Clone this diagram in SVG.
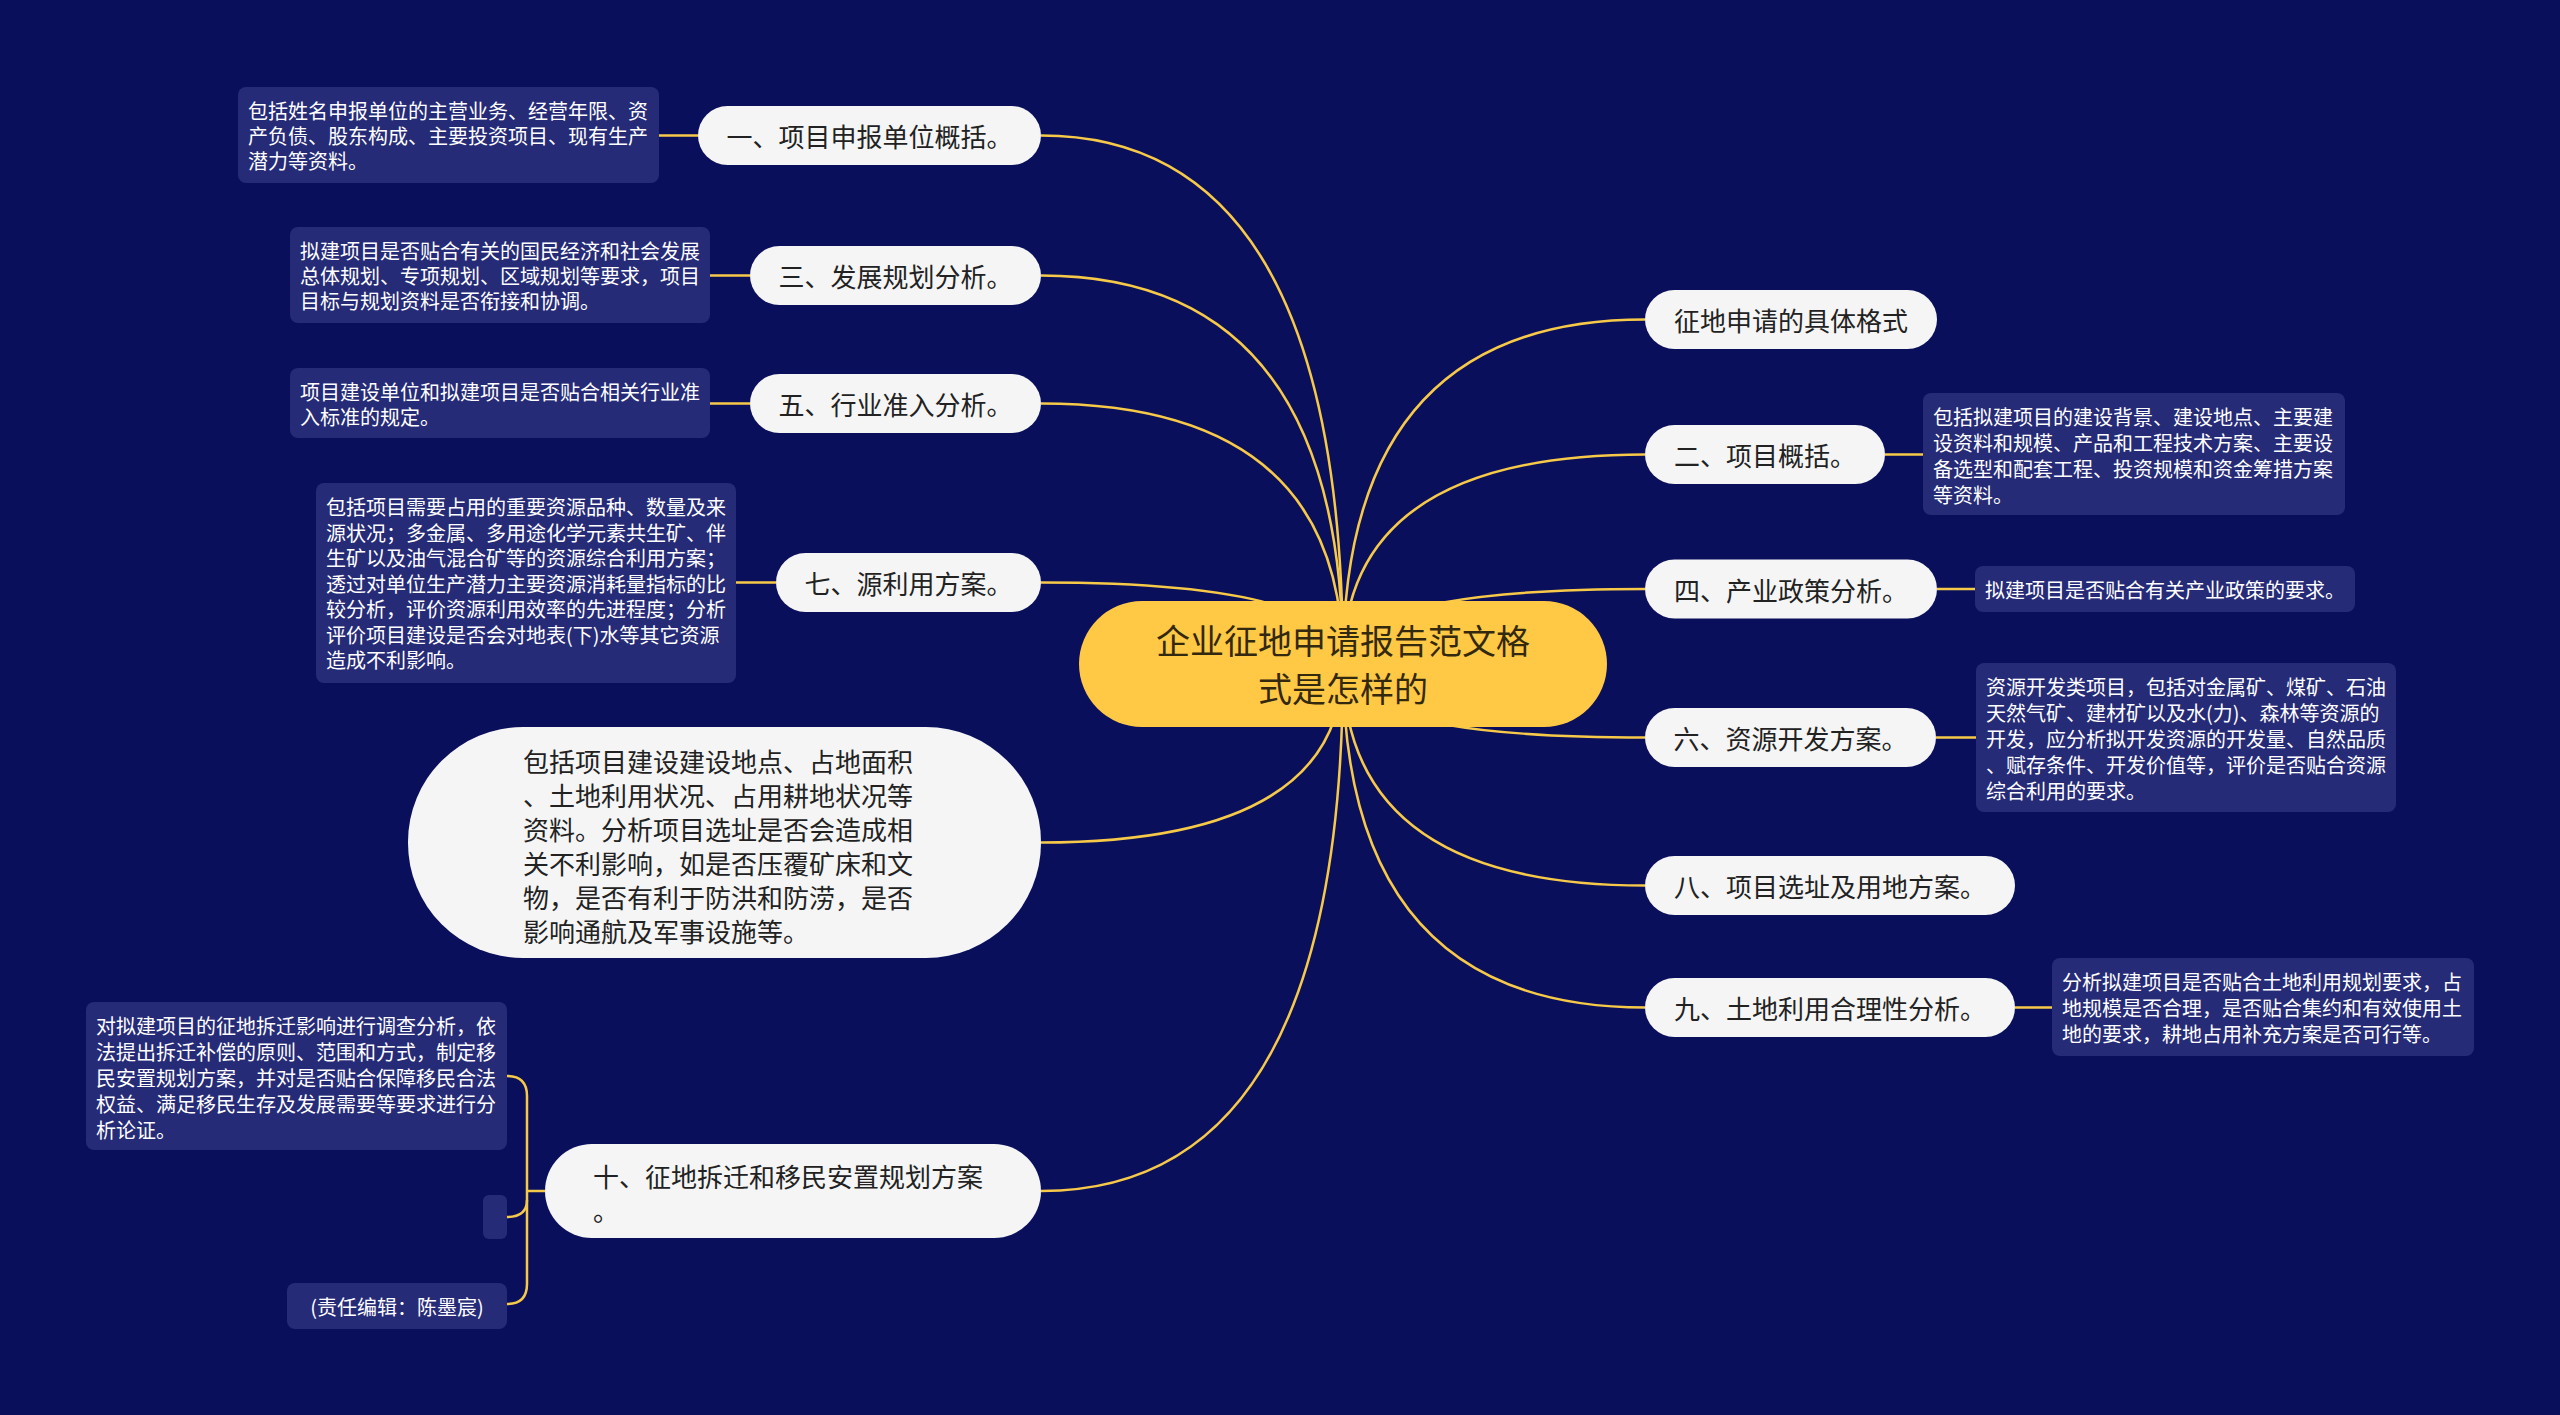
<svg xmlns="http://www.w3.org/2000/svg" width="2560" height="1415" viewBox="0 0 2560 1415">
<defs>
<style>
text{font-family:"Noto Sans CJK SC","Noto Sans",sans-serif;dominant-baseline:central}
.pill{fill:#f5f5f5}
.pt{font-size:26px;fill:#222}
.desc{fill:#262b77}
.dt{font-size:20px;fill:#ffffff}
.ln{fill:none;stroke:#f7c948;stroke-width:2.5}
.root{fill:#ffc845}
.rt{font-size:34px;fill:#33290f;text-anchor:middle}
</style>
</defs>
<rect x="0" y="0" width="2560" height="1415" fill="#0a0f5c"/>
<g id="connectors">
<path class="ln" d="M1343 664 Q1343 135.5 1041 135.5"/>
<path class="ln" d="M1343 664 Q1343 275.5 1041 275.5"/>
<path class="ln" d="M1343 664 Q1343 403.5 1041 403.5"/>
<path class="ln" d="M1343 664 Q1343 582.5 1041 582.5"/>
<path class="ln" d="M1343 664 Q1343 842.5 1041 842.5"/>
<path class="ln" d="M1343 664 Q1343 1191 1041 1191"/>
<path class="ln" d="M1343 664 Q1343 319.5 1645 319.5"/>
<path class="ln" d="M1343 664 Q1343 454.5 1645 454.5"/>
<path class="ln" d="M1343 664 Q1343 589 1645 589"/>
<path class="ln" d="M1343 664 Q1343 737.5 1645 737.5"/>
<path class="ln" d="M1343 664 Q1343 885.5 1645 885.5"/>
<path class="ln" d="M1343 664 Q1343 1007.5 1645 1007.5"/>
<path class="ln" d="M659 135.5 H698"/>
<path class="ln" d="M710 275.5 H750"/>
<path class="ln" d="M710 403.5 H750"/>
<path class="ln" d="M736 582.5 H776"/>
<path class="ln" d="M1885 454.5 H1923"/>
<path class="ln" d="M1937 589 H1975"/>
<path class="ln" d="M1936 737.5 H1976"/>
<path class="ln" d="M2015 1007.5 H2052"/>
<path class="ln" d="M545 1191 H527"/>
<path class="ln" d="M507 1076 Q527 1076 527 1096 V1284 Q527 1304 507 1304"/>
<path class="ln" d="M527 1200 Q527 1217 507 1217"/>
</g>
<g id="root">
<rect class="root" x="1079" y="601" width="528" height="126" rx="63"/>
<text class="rt" x="1343" y="639">企业征地申请报告范文格</text>
<text class="rt" x="1343" y="687">式是怎样的</text>
</g>
<g id="n1">
<rect class="pill" x="698" y="106" width="343" height="59" rx="29.5"/>
<text class="pt" x="869.5" y="135.5" text-anchor="middle">一、项目申报单位概括。</text>
</g>
<g id="n1d">
<rect class="desc" x="238" y="87" width="421" height="96" rx="8"/>
<text class="dt" x="248"><tspan x="248" y="110">包括姓名申报单位的主营业务、经营年限、资</tspan><tspan x="248" y="135">产负债、股东构成、主要投资项目、现有生产</tspan><tspan x="248" y="160">潜力等资料。</tspan></text>
</g>
<g id="n3">
<rect class="pill" x="750" y="246" width="291" height="59" rx="29.5"/>
<text class="pt" x="895.5" y="275.5" text-anchor="middle">三、发展规划分析。</text>
</g>
<g id="n3d">
<rect class="desc" x="290" y="227" width="420" height="96" rx="8"/>
<text class="dt"><tspan x="300" y="250">拟建项目是否贴合有关的国民经济和社会发展</tspan><tspan x="300" y="275">总体规划、专项规划、区域规划等要求，项目</tspan><tspan x="300" y="300">目标与规划资料是否衔接和协调。</tspan></text>
</g>
<g id="n5">
<rect class="pill" x="750" y="374" width="291" height="59" rx="29.5"/>
<text class="pt" x="895.5" y="403.5" text-anchor="middle">五、行业准入分析。</text>
</g>
<g id="n5d">
<rect class="desc" x="290" y="368" width="420" height="70" rx="8"/>
<text class="dt"><tspan x="300" y="390.5">项目建设单位和拟建项目是否贴合相关行业准</tspan><tspan x="300" y="415.5">入标准的规定。</tspan></text>
</g>
<g id="n7">
<rect class="pill" x="776" y="553" width="265" height="59" rx="29.5"/>
<text class="pt" x="908.5" y="582.5" text-anchor="middle">七、源利用方案。</text>
</g>
<g id="n7d">
<rect class="desc" x="316" y="483" width="420" height="200" rx="8"/>
<text class="dt"><tspan x="326" y="506">包括项目需要占用的重要资源品种、数量及来</tspan><tspan x="326" y="531.5">源状况；多金属、多用途化学元素共生矿、伴</tspan><tspan x="326" y="557">生矿以及油气混合矿等的资源综合利用方案；</tspan><tspan x="326" y="582.5">透过对单位生产潜力主要资源消耗量指标的比</tspan><tspan x="326" y="608">较分析，评价资源利用效率的先进程度；分析</tspan><tspan x="326" y="633.5">评价项目建设是否会对地表(下)水等其它资源</tspan><tspan x="326" y="659">造成不利影响。</tspan></text>
</g>
<g id="n-site">
<rect class="pill" x="408" y="727" width="633" height="231" rx="115"/>
<text class="pt"><tspan x="523" y="760">包括项目建设建设地点、占地面积</tspan><tspan x="523" y="794">、土地利用状况、占用耕地状况等</tspan><tspan x="523" y="828">资料。分析项目选址是否会造成相</tspan><tspan x="523" y="862">关不利影响，如是否压覆矿床和文</tspan><tspan x="523" y="896">物，是否有利于防洪和防涝，是否</tspan><tspan x="523" y="930">影响通航及军事设施等。</tspan></text>
</g>
<g id="n10">
<rect class="pill" x="545" y="1144" width="496" height="94" rx="47"/>
<text class="pt"><tspan x="593" y="1175">十、征地拆迁和移民安置规划方案</tspan><tspan x="593" y="1209">。</tspan></text>
</g>
<g id="n10a">
<rect class="desc" x="86" y="1002" width="421" height="148" rx="8"/>
<text class="dt"><tspan x="96" y="1025">对拟建项目的征地拆迁影响进行调查分析，依</tspan><tspan x="96" y="1051">法提出拆迁补偿的原则、范围和方式，制定移</tspan><tspan x="96" y="1077">民安置规划方案，并对是否贴合保障移民合法</tspan><tspan x="96" y="1103">权益、满足移民生存及发展需要等要求进行分</tspan><tspan x="96" y="1129">析论证。</tspan></text>
</g>
<g id="n10b">
<rect class="desc" x="483" y="1195" width="24" height="44" rx="6"/>
</g>
<g id="n10c">
<rect class="desc" x="287" y="1283" width="220" height="46" rx="8"/>
<text class="dt" x="397" y="1306" text-anchor="middle">(责任编辑：陈墨宸)</text>
</g>
<g id="r0">
<rect class="pill" x="1645" y="290" width="292" height="59" rx="29.5"/>
<text class="pt" x="1791" y="319.5" text-anchor="middle">征地申请的具体格式</text>
</g>
<g id="r2">
<rect class="pill" x="1645" y="425" width="240" height="59" rx="29.5"/>
<text class="pt" x="1765" y="454.5" text-anchor="middle">二、项目概括。</text>
</g>
<g id="r2d">
<rect class="desc" x="1923" y="393" width="422" height="122" rx="8"/>
<text class="dt"><tspan x="1933" y="416">包括拟建项目的建设背景、建设地点、主要建</tspan><tspan x="1933" y="442">设资料和规模、产品和工程技术方案、主要设</tspan><tspan x="1933" y="468">备选型和配套工程、投资规模和资金筹措方案</tspan><tspan x="1933" y="494">等资料。</tspan></text>
</g>
<g id="r4">
<rect class="pill" x="1645" y="559.5" width="292" height="59" rx="29.5"/>
<text class="pt" x="1791" y="589" text-anchor="middle">四、产业政策分析。</text>
</g>
<g id="r4d">
<rect class="desc" x="1975" y="566" width="380" height="46" rx="8"/>
<text class="dt" x="1985" y="589">拟建项目是否贴合有关产业政策的要求。</text>
</g>
<g id="r6">
<rect class="pill" x="1645" y="708" width="291" height="59" rx="29.5"/>
<text class="pt" x="1790.5" y="737.5" text-anchor="middle">六、资源开发方案。</text>
</g>
<g id="r6d">
<rect class="desc" x="1976" y="663" width="420" height="149" rx="8"/>
<text class="dt"><tspan x="1986" y="685.5">资源开发类项目，包括对金属矿、煤矿、石油</tspan><tspan x="1986" y="711.5">天然气矿、建材矿以及水(力)、森林等资源的</tspan><tspan x="1986" y="737.5">开发，应分析拟开发资源的开发量、自然品质</tspan><tspan x="1986" y="763.5">、赋存条件、开发价值等，评价是否贴合资源</tspan><tspan x="1986" y="789.5">综合利用的要求。</tspan></text>
</g>
<g id="r8">
<rect class="pill" x="1645" y="856" width="370" height="59" rx="29.5"/>
<text class="pt" x="1830" y="885.5" text-anchor="middle">八、项目选址及用地方案。</text>
</g>
<g id="r9">
<rect class="pill" x="1645" y="978" width="370" height="59" rx="29.5"/>
<text class="pt" x="1830" y="1007.5" text-anchor="middle">九、土地利用合理性分析。</text>
</g>
<g id="r9d">
<rect class="desc" x="2052" y="958" width="422" height="98" rx="8"/>
<text class="dt"><tspan x="2062" y="981">分析拟建项目是否贴合土地利用规划要求，占</tspan><tspan x="2062" y="1007">地规模是否合理，是否贴合集约和有效使用土</tspan><tspan x="2062" y="1033">地的要求，耕地占用补充方案是否可行等。</tspan></text>
</g>
</svg>
